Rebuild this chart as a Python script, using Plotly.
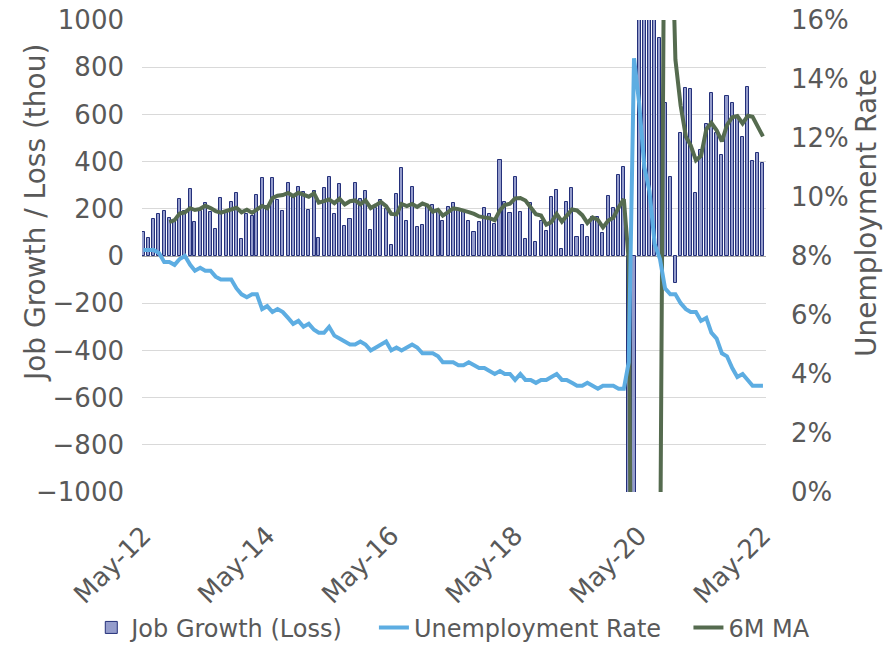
import pandas as pd
import plotly.graph_objects as go

# monthly data, May-12 .. May-22 (thousands of jobs, unemployment in %)
months = pd.date_range("2012-05-01", "2022-05-01", freq="MS")

job_growth = [
    103, 75, 157, 177, 190, 162, 150, 242,                      # 2012 May-Dec
    190, 282, 143, 192, 226, 185, 114, 244, 188, 229, 265, 72,  # 2013
    178, 170, 257, 329, 210, 329, 236, 190, 311, 248, 292, 272, # 2014
    194, 274, 75, 287, 336, 178, 305, 129, 157, 308, 240, 274,  # 2015
    112, 204, 238, 198, 45, 263, 375, 148, 294, 121, 132, 216,  # 2016
    217, 195, 147, 209, 226, 198, 186, 148, 103, 145, 202, 178, # 2017
    135, 405, 230, 181, 336, 188, 71, 223, 61, 148, 106, 251,   # 2018
    280, 28, 227, 290, 82, 131, 82, 167, 167, 98, 256, 202,     # 2019
    343, 379, -1400, -20500, 2800, 4800, 1700, 1500, 922, 650, 336, -113,  # 2020
    523, 713, 706, 268, 449, 559, 692, 520, 428, 679, 650, 588, # 2021
    504, 715, 402, 438, 393,                                    # 2022 Jan-May
]

unemployment = [
    8.2, 8.2, 8.2, 8.1, 7.8, 7.8, 7.7, 7.9,
    8.0, 7.7, 7.5, 7.6, 7.5, 7.5, 7.3, 7.2, 7.2, 7.2, 6.9, 6.7,
    6.6, 6.7, 6.7, 6.2, 6.3, 6.1, 6.2, 6.1, 5.9, 5.7, 5.8, 5.6,
    5.7, 5.5, 5.4, 5.4, 5.6, 5.3, 5.2, 5.1, 5.0, 5.0, 5.1, 5.0,
    4.8, 4.9, 5.0, 5.1, 4.8, 4.9, 4.8, 4.9, 5.0, 4.9, 4.7, 4.7,
    4.7, 4.6, 4.4, 4.4, 4.4, 4.3, 4.3, 4.4, 4.3, 4.2, 4.2, 4.1,
    4.0, 4.1, 4.0, 4.0, 3.8, 4.0, 3.8, 3.8, 3.7, 3.8, 3.8, 3.9,
    4.0, 3.8, 3.8, 3.7, 3.6, 3.6, 3.7, 3.6, 3.5, 3.6, 3.6, 3.6,
    3.5, 3.5, 4.4, 14.7, 13.2, 11.0, 10.2, 8.4, 7.9, 6.9, 6.7, 6.7,
    6.4, 6.2, 6.1, 6.1, 5.8, 5.9, 5.4, 5.2, 4.7, 4.6, 4.2, 3.9,
    4.0, 3.8, 3.6, 3.6, 3.6,
]

tick_dates = ["2012-05-01", "2014-05-01", "2016-05-01", "2018-05-01", "2020-05-01", "2022-05-01"]
tick_labels = ["May-12", "May-14", "May-16", "May-18", "May-20", "May-22"]

# 6 month trailing average of the job numbers
ma_6m = pd.Series(job_growth).rolling(6).mean()

font = "DejaVu Sans"
grey = "#595959"

fig = go.Figure()
fig.add_trace(go.Bar(
    name="Job Growth (Loss)",
    x=months,
    y=job_growth,
    width=18 * 86400000,
    marker=dict(color="#959dcc", line=dict(color="#24307a", width=1)),
    legend="legend",
))
fig.add_trace(go.Scatter(
    name="Unemployment Rate",
    mode="lines",
    x=months,
    y=unemployment,
    yaxis="y2",
    line=dict(color="#5dade2", width=4),
    legend="legend2",
))
fig.add_trace(go.Scatter(
    name="6M MA",
    mode="lines",
    x=months,
    y=ma_6m,
    line=dict(color="#556b4f", width=4),
    legend="legend3",
))

# one legend box per entry so the row can spread like the original
def legend_at(x):
    return dict(
        orientation="h",
        xref="container", yref="container",
        x=x, xanchor="left",
        y=0.03, yanchor="middle",
        bgcolor="rgba(0,0,0,0)",
        font=dict(size=24, color=grey),
        itemwidth=30,
    )

# page body has an 8px margin, so the figure is 8px smaller than the window
fig.update_layout(
    width=886,
    height=639,
    margin=dict(l=134, r=128, t=12, b=155, autoexpand=False),
    paper_bgcolor="white",
    plot_bgcolor="white",
    font=dict(family=font, color=grey, size=26),
    bargap=0,
    showlegend=True,
    legend=legend_at(0.094),
    legend2=legend_at(0.413),
    legend3=legend_at(0.768),
    xaxis=dict(
        type="date",
        range=["2012-04-23", "2022-05-19"],
        tickvals=tick_dates,
        ticktext=tick_labels,
        tickangle=-45,
        showgrid=False,
        ticks="",
        ticklabelstandoff=22,
        tickfont=dict(size=26, color=grey),
    ),
    yaxis=dict(
        range=[-1000, 1000],
        dtick=200,
        showgrid=True,
        gridcolor="#d9d9d9",
        gridwidth=1,
        zeroline=True,
        zerolinecolor="#a6a6a6",
        zerolinewidth=1,
        ticks="",
        ticklabelstandoff=17,
        ticklabeloverflow="allow",
        tickfont=dict(size=26, color=grey),
    ),
    yaxis2=dict(
        overlaying="y",
        side="right",
        range=[0, 16],
        dtick=2,
        ticksuffix="%",
        showgrid=False,
        zeroline=False,
        ticks="",
        ticklabelstandoff=24,
        ticklabeloverflow="allow",
        tickfont=dict(size=26, color=grey),
    ),
    annotations=[
        dict(text="Job Growth / Loss (thou)", xref="paper", yref="paper",
             x=-0.1715, y=0.591, xanchor="center", yanchor="middle",
             textangle=-90, showarrow=False,
             font=dict(size=28, color=grey)),
        dict(text="Unemployment Rate", xref="paper", yref="paper",
             x=1.1603, y=0.591, xanchor="center", yanchor="middle",
             textangle=-90, showarrow=False,
             font=dict(size=28, color=grey)),
    ],
)

fig.write_html("out.html")
